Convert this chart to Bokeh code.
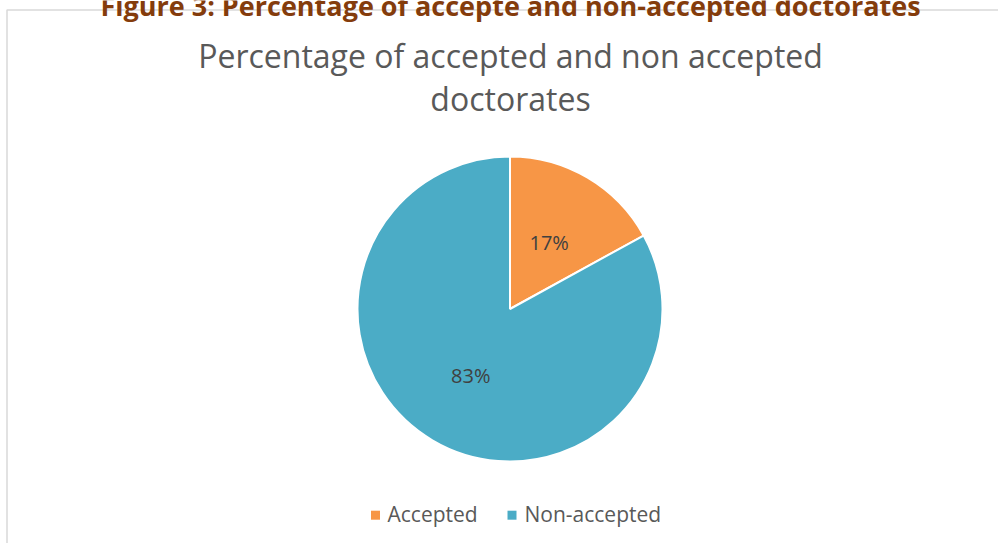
import numpy as np
from bokeh.plotting import figure
from bokeh.models import Range1d
from bokeh.core.properties import value
from bokeh.embed import file_html
from bokeh.resources import INLINE

# ---- data ----
categories = ["Accepted", "Non-accepted"]
percentages = [17, 83]
colors = ["#F79646", "#4BACC6"]
chart_title = ["Percentage of accepted and non accepted", "doctorates"]
figure_caption = "Figure 3: Percentage of accepte and non-accepted doctorates"

W, H = 998, 543
FONT = value("Open Sans")

def py(y):
    return H - y

p = figure(width=W, height=H, output_backend="svg", toolbar_location=None,
           x_range=Range1d(0, W), y_range=Range1d(0, H),
           min_border=0)
p.axis.visible = False
p.grid.visible = False
p.outline_line_color = None
p.background_fill_color = "white"
p.border_fill_color = "white"

# chart frame border (light gray)
p.line(x=[6.5, 6.5, 1100], y=[py(600), py(9.5), py(9.5)], line_color="#D9D9D9", line_width=1.5)

# figure caption (cut off at top)
p.text(x=[510], y=[py(4.5)], text=[figure_caption], text_font=FONT, text_font_style="bold",
       text_font_size="27px", text_color="#843C0C", text_align="center", text_baseline="middle")

# chart title
p.text(x=[510, 510], y=[py(54.5), py(98)], text=chart_title, text_font=FONT,
       text_font_size="32px", text_color="#595959", text_align="center", text_baseline="middle")

# pie
cx, cy, R = 509.5, 308.5, 152.5
vals = np.array(percentages, dtype=float)
fr = vals / vals.sum()
cum = np.concatenate([[0], np.cumsum(fr)])
start = np.pi / 2 - cum[:-1] * 2 * np.pi
end = np.pi / 2 - cum[1:] * 2 * np.pi
p.wedge(x=cx, y=py(cy), radius=R, radius_units="screen",
        start_angle=start, end_angle=end, direction="clock",
        fill_color=colors, line_color="white", line_width=2)

# data labels
mid = (start + end) / 2
rl = 0.505 * R
lx = cx + rl * np.cos(mid)
ly = py(cy) + rl * np.sin(mid)
p.text(x=lx, y=ly, text=[f"{v}%" for v in percentages], text_font=FONT, text_font_size="20px",
       text_color="#404040", text_align="center", text_baseline="middle")

# legend
leg_sq_x = [375, 511.5]
leg_txt_x = [387, 524]
p.rect(x=leg_sq_x, y=[py(514.7)] * 2, width=9, height=9, width_units="screen", height_units="screen",
       fill_color=colors, line_color=None)
p.text(x=leg_txt_x, y=[py(513.5)] * 2, text=categories, text_font=FONT, text_font_size="21px",
       text_color="#595959", text_align="left", text_baseline="middle")

open("out.html", "w").write(file_html(p, INLINE))
